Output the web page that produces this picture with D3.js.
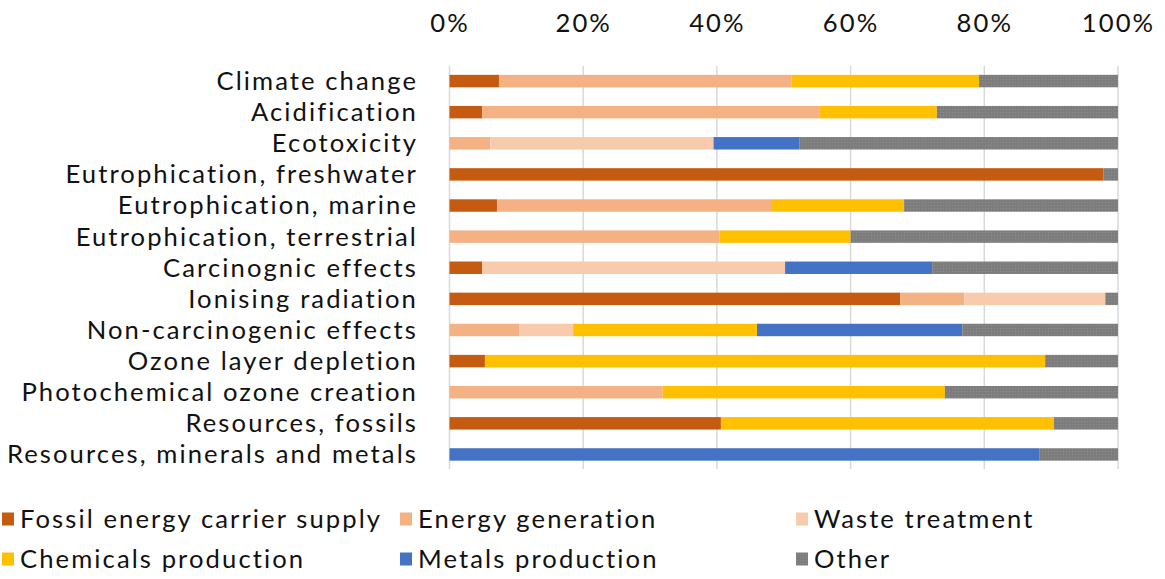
<!DOCTYPE html>
<html>
<head>
<meta charset="utf-8">
<script src="https://cdn.jsdelivr.net/npm/d3@7/dist/d3.min.js"></script>
<style>
  html, body { margin: 0; padding: 0; background: #fff; }
  svg { display: block; }
  text { font-family: Lato, "Open Sans", sans-serif; fill: #111; font-variant-ligatures: none; }
</style>
</head>
<body>
<svg id="chart" width="1165" height="579"></svg>
<script>
// Impact categories, top to bottom
const categories = [
  "Climate change",
  "Acidification",
  "Ecotoxicity",
  "Eutrophication, freshwater",
  "Eutrophication, marine",
  "Eutrophication, terrestrial",
  "Carcinognic effects",
  "Ionising radiation",
  "Non-carcinogenic effects",
  "Ozone layer depletion",
  "Photochemical ozone creation",
  "Resources, fossils",
  "Resources, minerals and metals"
];

// Contribution shares (%) per process group
const fossilSupply = [7.4, 4.9, 0, 97.8, 7.1, 0, 4.9, 67.4, 0, 5.3, 0, 40.6, 0];
const energyGeneration = [43.8, 50.4, 6.1, 0, 41.0, 40.4, 0, 9.6, 10.4, 0, 31.9, 0, 0];
const wasteTreatment = [0, 0, 33.4, 0, 0, 0, 45.3, 21.1, 8.1, 0, 0, 0, 0];
const chemicalsProduction = [28.0, 17.6, 0, 0, 19.9, 19.6, 0, 0, 27.5, 83.8, 42.2, 49.8, 0];
const metalsProduction = [0, 0, 12.8, 0, 0, 0, 22.0, 0, 30.7, 0, 0, 0, 88.2];
const other = [20.8, 27.1, 47.7, 2.2, 32.0, 40.0, 27.8, 1.9, 23.3, 10.9, 25.9, 9.6, 11.8];

const seriesNames = [
  "Fossil energy carrier supply",
  "Energy generation",
  "Waste treatment",
  "Chemicals production",
  "Metals production",
  "Other"
];
const seriesValues = [fossilSupply, energyGeneration, wasteTreatment, chemicalsProduction, metalsProduction, other];
const seriesColors = ["#C55A11", "#F4B183", "#F8CBAD", "#FFC000", "#4472C4", "url(#otherFill)"];

const tickValues = [0, 20, 40, 60, 80, 100];

const svg = d3.select("#chart");

// fine dotted grey fill for "Other"
const defs = svg.append("defs");
const pat = defs.append("pattern")
  .attr("id", "otherFill")
  .attr("patternUnits", "userSpaceOnUse")
  .attr("width", 3).attr("height", 3);
pat.append("rect").attr("width", 3).attr("height", 3).attr("fill", "#7d7d7d");
pat.append("rect").attr("x", 1).attr("y", 1).attr("width", 1).attr("height", 1).attr("fill", "#8e8e8e");

// Font size kept within the row pitch; letter spacing widens the
// longest category label to fill the label column
const fontSize = 25.6;
const longest = "Resources, minerals and metals";
const probe = svg.append("text").style("font-size", fontSize + "px").text(longest);
const letterSpacing = Math.max(0, (409 - probe.node().getComputedTextLength()) / (longest.length - 1));
probe.remove();

function styleText(sel) {
  sel.style("font-size", fontSize + "px")
     .style("letter-spacing", letterSpacing + "px");
}

const x = d3.scaleLinear().domain([0, 100]).range([449.5, 1118]);
const y = d3.scaleBand().domain(categories).range([65.5, 470]).paddingInner(0.6).paddingOuter(0.3);

// rows for the stack
const rows = categories.map((c, i) => {
  const r = { category: c };
  seriesNames.forEach((s, j) => { r[s] = seriesValues[j][i]; });
  return r;
});
const stacked = d3.stack().keys(seriesNames)(rows);

// gridlines
svg.append("g")
  .selectAll("line")
  .data(tickValues)
  .join("line")
  .attr("x1", d => x(d)).attr("x2", d => x(d))
  .attr("y1", 66).attr("y2", 469)
  .attr("stroke", "#D9D9D9")
  .attr("stroke-width", 1.5);

// top axis labels
const xAxis = d3.axisTop(x).tickValues(tickValues).tickFormat(d => d + "%").tickSize(0).tickPadding(0);
const ax = svg.append("g").attr("transform", "translate(0,32)").call(xAxis);
ax.select(".domain").remove();
ax.selectAll("text")
  .call(styleText)
  .style("font-family", "Lato, 'Open Sans', sans-serif")
  .attr("fill", "#111")
  .attr("dy", 0);

// bars
svg.append("g")
  .selectAll("g")
  .data(stacked)
  .join("g")
  .attr("fill", (d, i) => seriesColors[i])
  .selectAll("rect")
  .data(d => d)
  .join("rect")
  .attr("x", d => x(d[0]))
  .attr("width", d => Math.max(0, x(d[1]) - x(d[0])))
  .attr("y", d => y(d.data.category))
  .attr("height", y.bandwidth());

// category labels
svg.append("g")
  .selectAll("text")
  .data(categories)
  .join("text")
  .attr("x", 418)
  .attr("y", d => y(d) + y.bandwidth() / 2)
  .attr("dy", "0.35em")
  .attr("text-anchor", "end")
  .call(styleText)
  .text(d => d);

// legend: three columns, two rows
const legendCols = [2, 400, 796];
const legendRows = [519, 559];
const legend = svg.append("g")
  .selectAll("g")
  .data(seriesNames)
  .join("g")
  .attr("transform", (d, i) => `translate(${legendCols[i % 3]},${legendRows[Math.floor(i / 3)]})`);
legend.append("rect")
  .attr("x", 0).attr("y", -6.5)
  .attr("width", 12).attr("height", 13)
  .attr("fill", (d, i) => seriesColors[i]);
legend.append("text")
  .attr("x", 18)
  .attr("y", 0)
  .attr("dy", "0.35em")
  .call(styleText)
  .text(d => d);
</script>
</body>
</html>
